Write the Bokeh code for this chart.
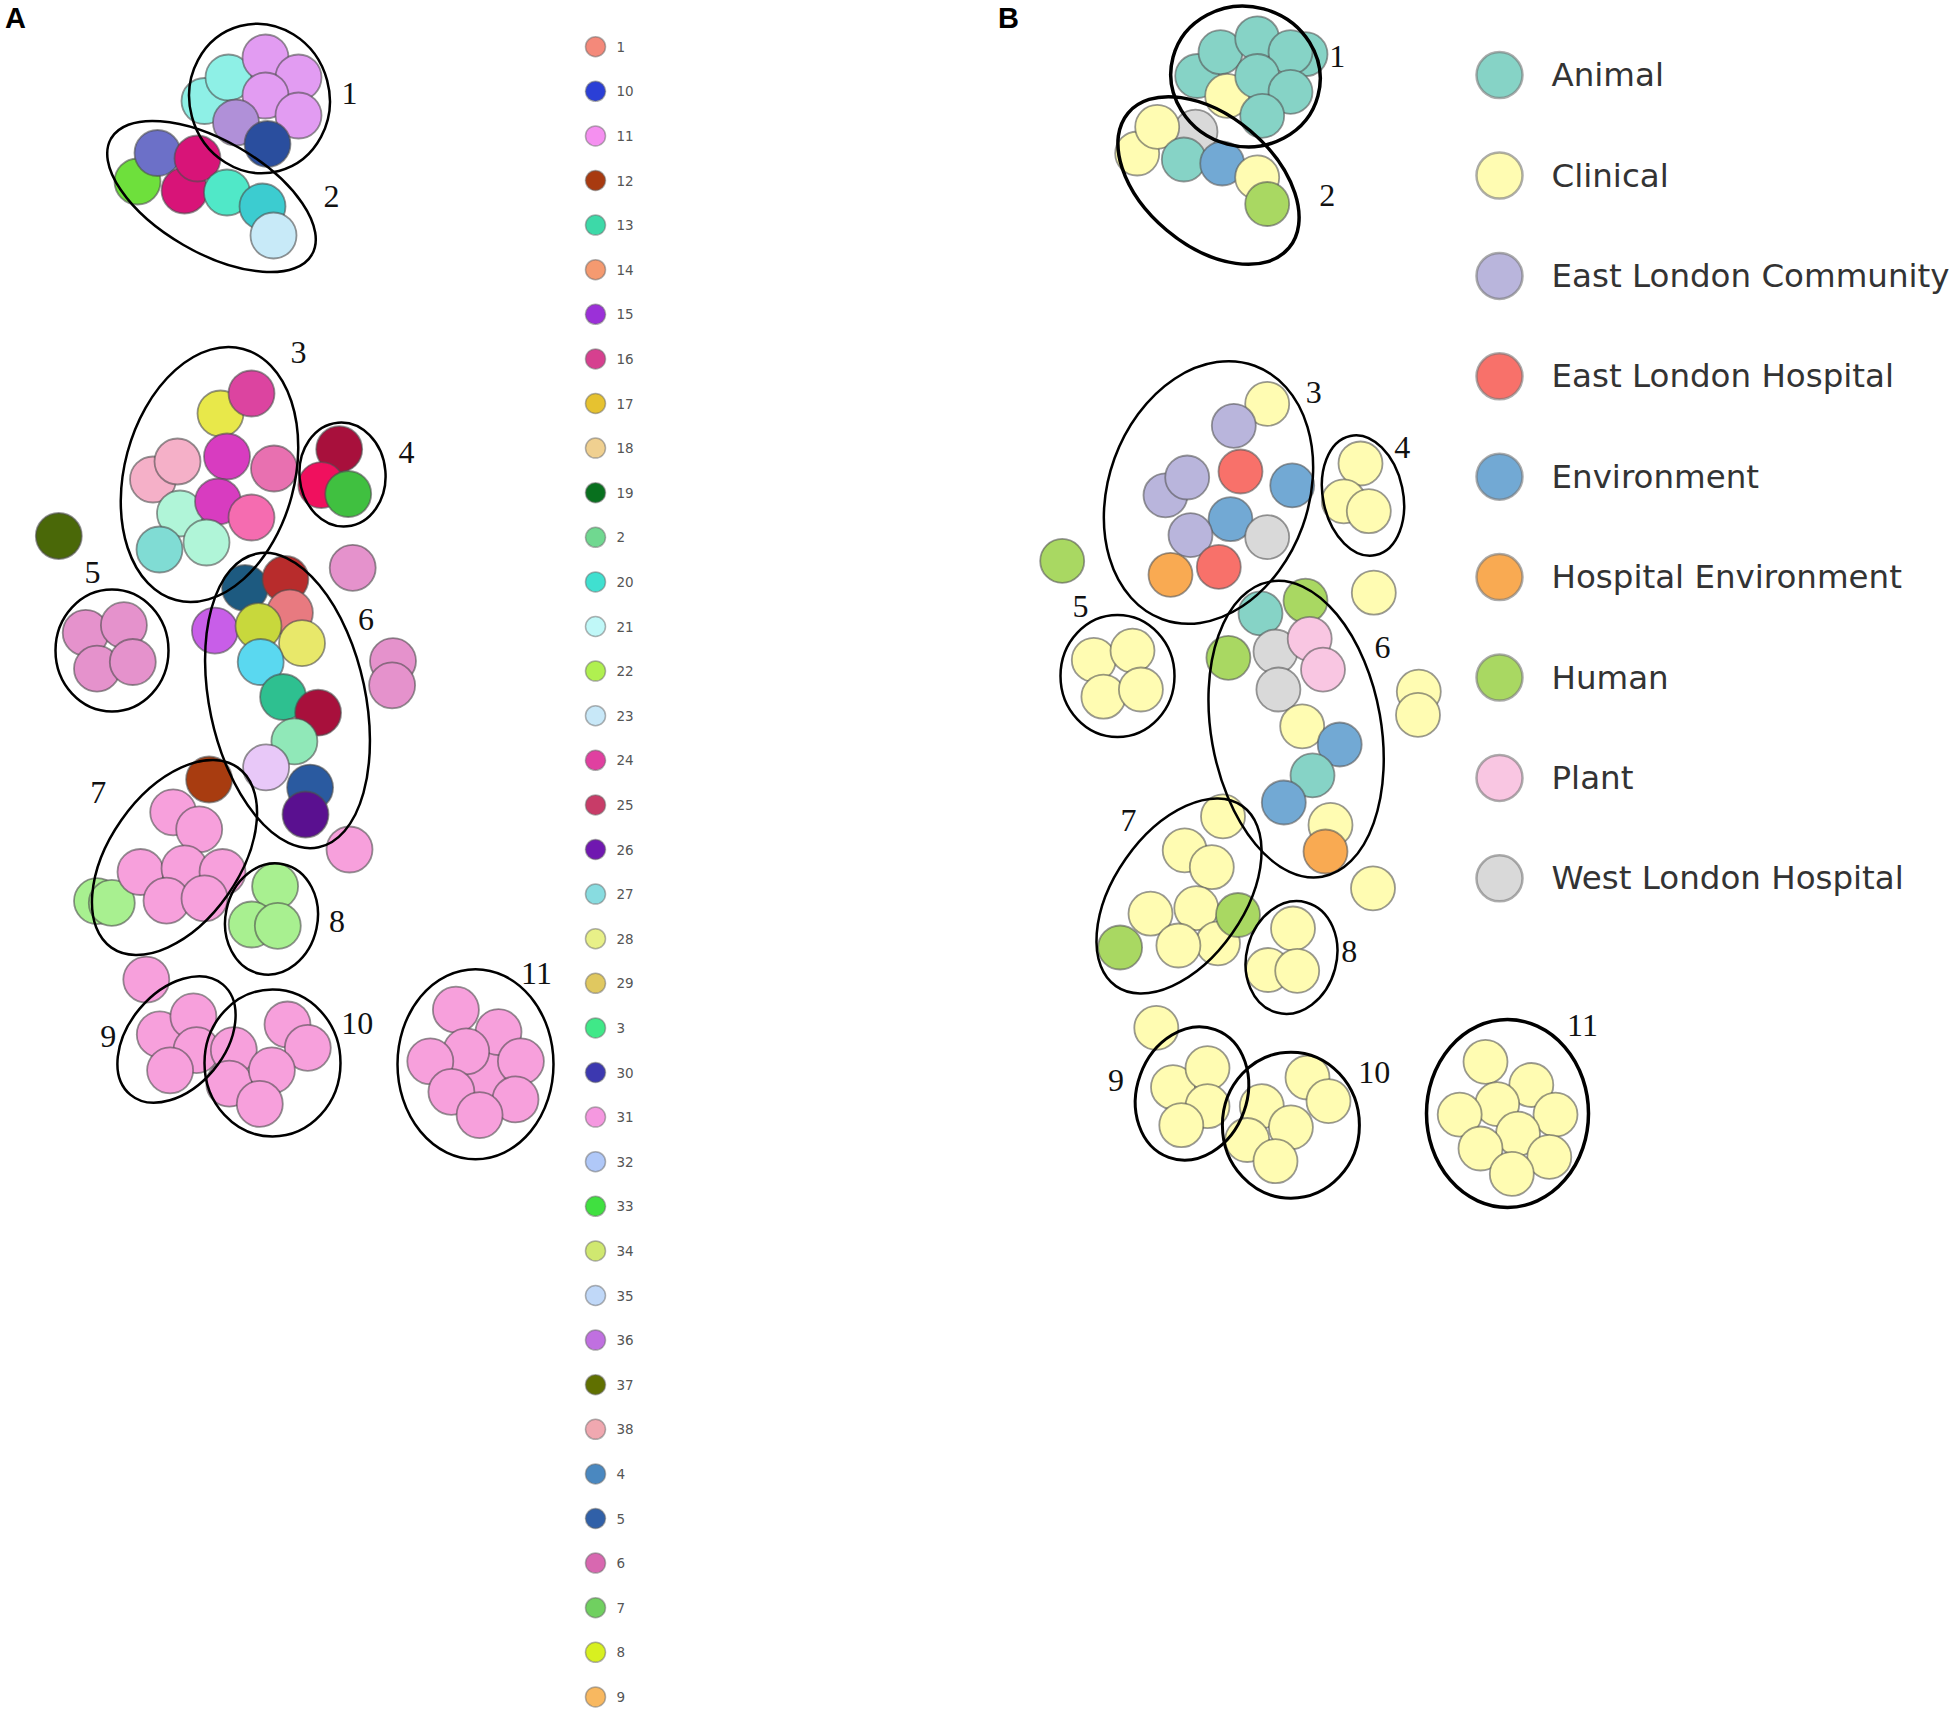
import numpy as np
from bokeh.plotting import figure
from bokeh.models import Range1d
from bokeh.embed import file_html
from bokeh.resources import INLINE
from bokeh.core.properties import value

# ---------------- Panel A data (sequence clusters) ----------------
a_x = [204, 228, 265, 298, 265, 298, 235.5, 267,
       137, 157, 184, 197, 226.5, 262, 273,
       152.5, 177, 220, 251, 226.5, 273.5, 179.5, 217.5, 251, 159, 206,
       338.7, 320.8, 347.7,
       58.3, 352.2, 392.5, 391.6, 349, 145.8,
       85.2, 123.4, 96.5, 132.3,
       214.4, 244.5, 284.9, 289.4, 258, 301.5, 260.2, 282.6, 317.6, 293.9, 265.6, 309.6, 305,
       208.6, 172.7, 198.7, 96.5, 111.3, 140, 184, 222, 166, 204,
       274.6, 251.2, 277.3,
       159.3, 192.9, 196, 169.6,
       233.3, 228.8, 287, 307.3, 271.4, 259.3,
       486.8, 455.4, 498, 465.7, 429.8, 520.4, 450.9, 515, 479.1]
a_y = [100.5, 77, 57, 77, 95, 115, 122, 143.5,
       181, 152.5, 190, 158, 192, 206, 235,
       479, 461, 413, 393, 456, 468, 513, 501, 517, 549, 542,
       448.7, 484.6, 493.5,
       535.5, 567.3, 660.6, 684.8, 849, 979.1,
       632.3, 624.7, 668.2, 661.5,
       630.1, 587.5, 578.5, 612.2, 625.6, 642.7, 661.5, 696.5, 712.2, 740.9, 766.9, 787.1, 814,
       779, 811.8, 828.8, 900.6, 902.4, 871.5, 867.9, 871.5, 900.2, 897.9,
       885.8, 924, 925.3,
       1033.9, 1015.9, 1049.6, 1069.8,
       1049.6, 1083.2, 1024, 1047.3, 1069.8, 1103.4,
       1074.2, 1009.2, 1031.6, 1050.9, 1060.8, 1060.8, 1091.3, 1098.9, 1114.6]
a_col = ["#8ef0e6", "#8ef0e6", "#e29cf2", "#e29cf2", "#e29cf2", "#e29cf2", "#b090d8", "#2a4e9e",
         "#6ee03c", "#6c70c8", "#d81478", "#d81478", "#50e8c8", "#3cccd0", "#c8eaf8",
         "#f5b0c8", "#f5b0c8", "#e8e84a", "#dc44a0", "#d83cc0", "#e870b0", "#b0f5d8", "#d83cc0", "#f56cb0", "#80dcd4", "#b0f5d8",
         "#a8103c", "#f0105e", "#40c040",
         "#4a6808", "#e592cc", "#e592cc", "#e592cc", "#f7a0dc", "#f7a0dc",
         "#e592cc", "#e592cc", "#e592cc", "#e592cc",
         "#c85ee8", "#1d5a80", "#b82c2c", "#e87a80", "#c8d83c", "#e8e86a", "#5ad8f0", "#2ec090", "#a8103c", "#90e8b8", "#e8c8f8", "#2a5aa0", "#5a1090",
         "#a83c10", "#f7a0dc", "#f7a0dc", "#a8f090", "#a8f090", "#f7a0dc", "#f7a0dc", "#f7a0dc", "#f7a0dc", "#f7a0dc",
         "#a8f090", "#a8f090", "#a8f090",
         "#f7a0dc", "#f7a0dc", "#f7a0dc", "#f7a0dc",
         "#f7a0dc", "#f7a0dc", "#f7a0dc", "#f7a0dc", "#f7a0dc", "#f7a0dc",
         "#f7a0dc", "#f7a0dc", "#f7a0dc", "#f7a0dc", "#f7a0dc", "#f7a0dc", "#f7a0dc", "#f7a0dc", "#f7a0dc"]

# cluster outlines A: centre, axes, tilt (deg, anticlockwise)
a_cl_x = [259, 211, 209, 342, 111.5, 287, 174, 271, 176, 272, 475]
a_cl_y = [98, 196, 474, 474, 650, 700, 857, 918.5, 1039, 1062.5, 1063.7]
a_cl_w = [140, 232, 170, 86, 113, 156, 130, 92, 96, 136, 156]
a_cl_h = [150, 112, 260, 104, 122, 300, 220, 112, 144, 147, 190]
a_cl_ang = [15, -30, -15, 5, 0, 12, -35, -12, -40, 0, 0]
a_lab = ["1", "2", "3", "4", "5", "6", "7", "8", "9", "10", "11"]
a_lab_x = [349, 331, 298, 406, 92, 365.6, 97.8, 336.5, 107.7, 356.7, 536]
a_lab_y = [92.6, 195.6, 352, 452, 571.8, 618.9, 791.6, 920.8, 1036, 1022.6, 973.3]

a_leg = ["1", "10", "11", "12", "13", "14", "15", "16", "17", "18", "19", "2", "20", "21", "22",
         "23", "24", "25", "26", "27", "28", "29", "3", "30", "31", "32", "33", "34", "35", "36",
         "37", "38", "4", "5", "6", "7", "8", "9"]
a_leg_col = ["#f4897a", "#2b3fd6", "#f590f0", "#a83a10", "#3dd9a8", "#f59a70", "#9b30d8", "#d6408f",
             "#e6c230", "#f0d090", "#08701e", "#70d890", "#40e0d0", "#c0f8f8", "#b0f050", "#c8e8f8",
             "#e040a0", "#c83c68", "#7018b0", "#88dce0", "#e8f088", "#e0c860", "#40e888", "#3c38b0",
             "#f598e0", "#b0c8f8", "#40e040", "#d0e870", "#c0d8f8", "#c070e0", "#607000", "#f0a8b0",
             "#4a88c0", "#3060a8", "#d868b0", "#70d060", "#d8f020", "#f8b860"]

# ---------------- Panel B data (isolation source) ----------------
b_src = ["Animal", "Clinical", "East London Community", "East London Hospital", "Environment",
         "Hospital Environment", "Human", "Plant", "West London Hospital"]
b_src_col = ["#86d3c6", "#fffcb2", "#b9b5dc", "#f8716a", "#72a9d4", "#f9aa52", "#a9d862", "#f9c6e2", "#d9d9d9"]

b_x = [1305, 1196.7, 1220, 1256.7, 1290, 1226.7, 1256.7, 1290, 1261.7,
       1195, 1136.7, 1156.7, 1183.3, 1221.7, 1256.7, 1266.7,
       1266.7, 1233.3, 1165, 1186.7, 1240, 1291.7, 1230, 1190, 1266.7, 1170, 1218.3,
       1360, 1343.3, 1368.3,
       1061.7, 1373.3, 1418.3, 1417.5, 1372.5, 1155.8,
       1093.3, 1132, 1102.9, 1140.4,
       1305, 1260, 1227.9, 1275, 1309.2, 1322.5, 1277.9, 1301.7, 1339.2, 1312, 1283.3, 1330, 1325,
       1222.5, 1184.2, 1211.3, 1150, 1195.8, 1217.5, 1237.5, 1119.6, 1177.9,
       1292.5, 1267.5, 1296.7,
       1172.5, 1207, 1207, 1180.8,
       1307, 1328, 1261.3, 1290.4, 1246.7, 1275,
       1485, 1530.8, 1496.7, 1459.2, 1555, 1517.5, 1480, 1548.8, 1511.3]
b_y = [53.7, 75.5, 51.7, 37.8, 51.7, 95.4, 75.5, 91.4, 115.3,
       131.2, 153, 126.4, 159, 163, 176.9, 203.5,
       403.4, 425.3, 494.8, 477, 471, 484.9, 518.7, 534.6, 536.6, 574.3, 566.4,
       463, 500.8, 510.7,
       560.4, 592.2, 691.1, 714.4, 887.8, 1027.4,
       659.4, 650.1, 696.2, 689,
       600.2, 612.9, 657.3, 651, 638.3, 669.1, 689, 725.8, 744, 774.9, 802, 824.4, 851,
       815.9, 849.8, 866.7, 913.2, 907.7, 942.8, 914.5, 947, 945,
       928, 969.5, 970.3,
       1086.7, 1067.6, 1105.7, 1124.7,
       1077, 1100.6, 1105.7, 1126.8, 1139.5, 1160.7,
       1061.3, 1084.5, 1103.6, 1114.1, 1114.1, 1133.2, 1148, 1156.4, 1173.4]
b_cat = ["Animal", "Animal", "Animal", "Animal", "Animal", "Clinical", "Animal", "Animal", "Animal",
         "West London Hospital", "Clinical", "Clinical", "Animal", "Environment", "Clinical", "Human",
         "Clinical", "East London Community", "East London Community", "East London Community",
         "East London Hospital", "Environment", "Environment", "East London Community",
         "West London Hospital", "Hospital Environment", "East London Hospital",
         "Clinical", "Clinical", "Clinical",
         "Human", "Clinical", "Clinical", "Clinical", "Clinical", "Clinical",
         "Clinical", "Clinical", "Clinical", "Clinical",
         "Human", "Animal", "Human", "West London Hospital", "Plant", "Plant", "West London Hospital",
         "Clinical", "Environment", "Animal", "Environment", "Clinical", "Hospital Environment",
         "Clinical", "Clinical", "Clinical", "Clinical", "Clinical", "Clinical", "Human", "Human", "Clinical",
         "Clinical", "Clinical", "Clinical",
         "Clinical", "Clinical", "Clinical", "Clinical",
         "Clinical", "Clinical", "Clinical", "Clinical", "Clinical", "Clinical",
         "Clinical", "Clinical", "Clinical", "Clinical", "Clinical", "Clinical", "Clinical", "Clinical", "Clinical"]

b_cl_x = [1245, 1208, 1208, 1362.5, 1117, 1295.6, 1178.5, 1291, 1191.5, 1290.4, 1507]
b_cl_y = [76, 180, 492, 495, 675.5, 728.7, 895.5, 957, 1093, 1124.7, 1113]
b_cl_w = [150, 210, 200, 80, 114, 170, 130, 90, 110, 137, 162]
b_cl_h = [140, 130, 270, 122, 122, 300, 220, 114, 136, 146, 188]
b_cl_ang = [-15, -40, -20, 12, 0, 10, -35, -15, -20, 0, 0]
b_cl_lw = [3.5, 3.5, 2.5, 2.5, 2.5, 2.5, 2.5, 2.5, 3, 3, 3.5]
b_lab = ["1", "2", "3", "4", "5", "6", "7", "8", "9", "10", "11"]
b_lab_x = [1336.7, 1326.7, 1313.3, 1401.7, 1080, 1382, 1127.9, 1348.8, 1115.4, 1373.8, 1582]
b_lab_y = [55.6, 194.8, 391.5, 447, 606, 646.7, 820.2, 951.3, 1080.3, 1071.8, 1025.3]

# ---------------- figure ----------------
W, H = 1956, 1713
p = figure(width=W, height=H, x_range=Range1d(0, W), y_range=Range1d(H, 0),
           output_backend="svg", toolbar_location=None, min_border=0,
           x_axis_location=None, y_axis_location=None)
p.grid.visible = False
p.outline_line_color = None

col_map = dict(zip(b_src, b_src_col))

# Panel A circles
p.circle(x=a_x, y=a_y, radius=23, fill_color=a_col, line_color="#4d4d4d", line_alpha=0.6, line_width=1.8)
# Panel B circles
p.circle(x=b_x, y=b_y, radius=22, fill_color=[col_map[c] for c in b_cat],
         line_color="#555555", line_alpha=0.6, line_width=1.8)

# cluster outlines
p.ellipse(x=a_cl_x, y=a_cl_y, width=a_cl_w, height=a_cl_h, angle=list(np.radians(a_cl_ang)),
          fill_color=None, line_color="black", line_width=2.5)
p.ellipse(x=b_cl_x, y=b_cl_y, width=b_cl_w, height=b_cl_h, angle=list(np.radians(b_cl_ang)),
          fill_color=None, line_color="black", line_width=b_cl_lw)

serif = value("Liberation Serif")
p.text(x=a_lab_x, y=a_lab_y, text=a_lab, text_font=serif, text_font_size="32px",
       text_align="center", text_baseline="middle", text_color="#111111")
p.text(x=b_lab_x, y=b_lab_y, text=b_lab, text_font=serif, text_font_size="32px",
       text_align="center", text_baseline="middle", text_color="#111111")

# panel letters
p.text(x=[15, 1008], y=[17, 17], text=["A", "B"], text_font=value("Liberation Sans"),
       text_font_style="bold", text_font_size="29px", text_align="center", text_baseline="middle",
       text_color="black")

# legend A
a_leg_y = [46.2 + 44.6 * i for i in range(len(a_leg))]
p.circle(x=[595] * len(a_leg), y=a_leg_y, radius=10, fill_color=a_leg_col,
         line_color="#666666", line_alpha=0.5, line_width=1.5)
p.text(x=[616] * len(a_leg), y=a_leg_y, text=a_leg, text_font=value("DejaVu Sans"),
       text_font_size="13.5px", text_align="left", text_baseline="middle", text_color="#555555")

# legend B
b_leg_y = [74.6 + 100.4 * i for i in range(len(b_src))]
p.circle(x=[1499] * len(b_src), y=b_leg_y, radius=23, fill_color=b_src_col,
         line_color="#777777", line_alpha=0.6, line_width=2.5)
p.text(x=[1551] * len(b_src), y=b_leg_y, text=b_src, text_font=value("DejaVu Sans"),
       text_font_size="32.5px", text_align="left", text_baseline="middle", text_color="#333333")

open("out.html", "w").write(file_html(p, INLINE))
